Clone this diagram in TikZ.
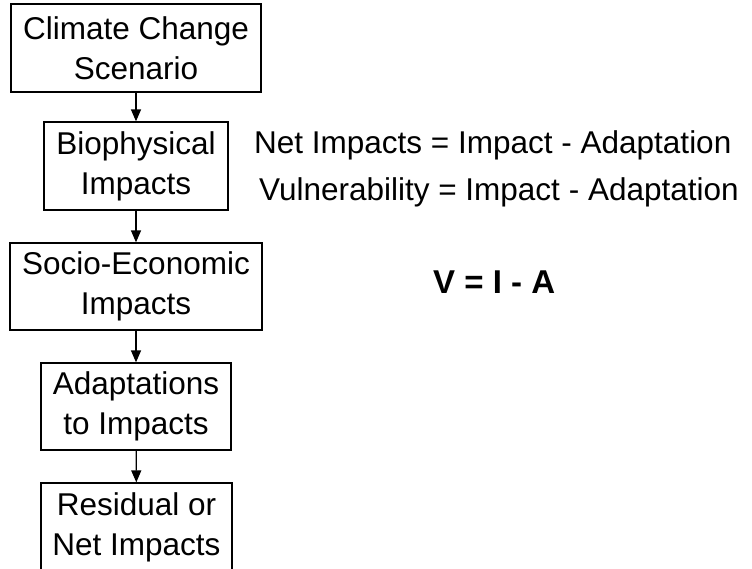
\documentclass[tikz,border=0pt]{standalone}
\usepackage{fontspec}
\setmainfont{Liberation Sans}
\usetikzlibrary{arrows.meta}
\begin{document}
\begin{tikzpicture}[x=1pt, y=-1pt,
    stage/.style={draw, line width=1.3pt, align=center, inner sep=0pt,
        minimum height=88pt, font=\fontsize{31.5}{40}\selectfont},
    flow/.style={line width=1.3pt, -{Triangle[length=12pt, width=10pt]}},
    eqn/.style={anchor=base west, inner sep=0pt, font=\fontsize{31.5}{38}\selectfont}]
    \useasboundingbox (0,0) rectangle (752,568);
    % chain of stages
    \node[stage, minimum width=250pt] (scen) at (136,48) {Climate Change\\Scenario};
    \node[stage, minimum width=184pt] (bio) at (136,166) {Biophysical\\Impacts};
    \node[stage, minimum width=252pt, minimum height=87pt] (soc) at (136,286.5) {Socio-Economic\\Impacts};
    \node[stage, minimum width=190pt, minimum height=87pt] (adap) at (136,406.5) {Adaptations\\to Impacts};
    \node[stage, minimum width=191pt] (resid) at (136.5,527) {Residual or\\Net Impacts};
    \draw[flow] (scen) -- (bio);
    \draw[flow] (bio) -- (soc);
    \draw[flow] (soc) -- (adap);
    \draw[flow] (adap) -- (resid);
    % equations
    \node[eqn] (net) at (254,153) {Net Impacts = Impact - Adaptation};
    \node[eqn] (vul) at (259,200) {Vulnerability = Impact - Adaptation};
    \node[eqn, font=\fontsize{33}{40}\selectfont\bfseries] (via) at (433,293) {V = I - A};
\end{tikzpicture}
\end{document}
